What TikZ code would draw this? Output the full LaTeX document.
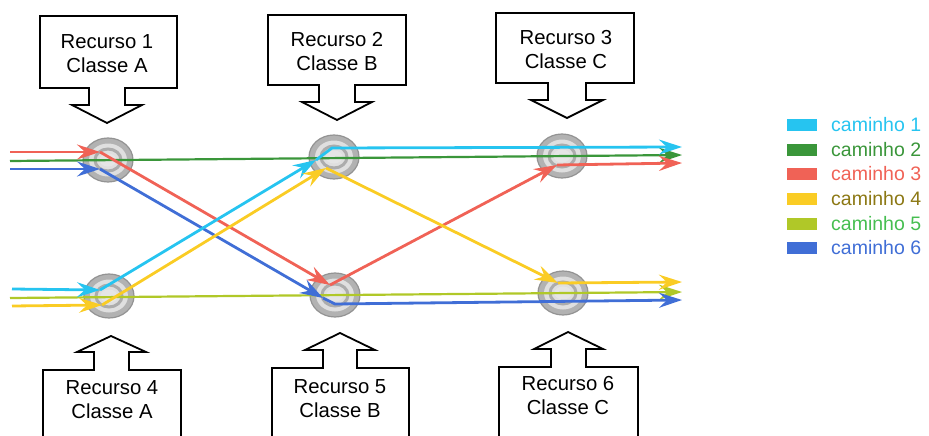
\documentclass[tikz,border=0pt]{standalone}
\usepackage{fontspec}
\setmainfont{Liberation Sans}
\usetikzlibrary{arrows.meta}
\definecolor{ccyan}{RGB}{38,196,240}
\definecolor{cgreen}{RGB}{58,150,58}
\definecolor{cred}{RGB}{240,98,86}
\definecolor{cyellow}{RGB}{250,204,36}
\definecolor{cyg}{RGB}{176,200,40}
\definecolor{cblue}{RGB}{64,110,214}
\definecolor{tolive}{RGB}{140,120,20}
\definecolor{tgreen}{RGB}{70,190,80}
\begin{document}
\begin{tikzpicture}[x=1pt,y=-1pt,
  flow/.style={line width=2.8pt, -{Stealth[length=23pt,width=15pt,inset=8pt]}},
  callout/.style={draw=black, line width=1.8pt, line join=miter},
  lbl/.style={font=\fontsize{20.3}{24}\selectfont, align=center, inner sep=0pt},
  legtxt/.style={font=\fontsize{19.5}{22}\selectfont, anchor=west, inner sep=0pt},
  router/.pic={
    \fill[gray!60] (0,0) ellipse [x radius=25pt, y radius=22pt];
    \draw[gray!85, line width=1.2pt] (0,0) ellipse [x radius=25pt, y radius=22pt];
    \fill[gray!25] (0,0) ellipse [x radius=19pt, y radius=16.5pt];
    \draw[gray!65, line width=3pt] (0,0) ellipse [x radius=13pt, y radius=11pt];
    \fill[gray!20] (0,0) ellipse [x radius=8.5pt, y radius=6.5pt];
  }]
\useasboundingbox (0,0) rectangle (929,436);

% top callouts
\draw[callout] (40,16) -- (177,16) -- (177,88) -- (125,88) -- (125,105) -- (142,105) -- (107,123) -- (72,105) -- (89,105) -- (89,88) -- (40,88) -- cycle;
\draw[callout] (268,15) -- (406,15) -- (406,85) -- (355,85) -- (355,102) -- (372,102) -- (337,120) -- (302,102) -- (319,102) -- (319,85) -- (268,85) -- cycle;
\draw[callout] (496,13) -- (634,13) -- (634,83) -- (586,83) -- (586,100) -- (603,100) -- (567,118) -- (531,100) -- (548,100) -- (548,83) -- (496,83) -- cycle;
\node[lbl] (t1) at (107,54) {Recurso 1\\Classe A};
\node[lbl] (t2) at (337,51.5) {Recurso 2\\Classe B};
\node[lbl] (t3) at (566,50) {Recurso 3\\Classe C};

% bottom callouts
\draw[callout] (43,440) -- (43,370) -- (94,370) -- (94,352) -- (77,352) -- (111,336) -- (146,352) -- (129,352) -- (129,370) -- (181,370) -- (181,440);
\draw[callout] (272,440) -- (272,368) -- (323,368) -- (323,350) -- (305,350) -- (340,333) -- (375,350) -- (357,350) -- (357,368) -- (409,368) -- (409,440);
\draw[callout] (499,440) -- (499,367) -- (551,367) -- (551,349) -- (534,349) -- (568,332) -- (603,349) -- (586,349) -- (586,367) -- (638,367) -- (638,440);
\node[lbl] (t4) at (112,399.5) {Recurso 4\\Classe A};
\node[lbl] (t5) at (340,398.5) {Recurso 5\\Classe B};
\node[lbl] (t6) at (568,395.5) {Recurso 6\\Classe C};

% routers
\pic (n1) at (108,160) {router};
\pic (n2) at (334,157) {router};
\pic (n3) at (562,156) {router};
\pic (n4) at (109,296) {router};
\pic (n5) at (335,295) {router};
\pic (n6) at (563,293) {router};

% waypoints
\coordinate (g0) at (10,161); \coordinate (g1) at (682,155);
\coordinate (v0) at (10,298); \coordinate (v1) at (682,292);
\coordinate (r0) at (10,152); \coordinate (r1) at (100,152); \coordinate (r2) at (330,285); \coordinate (r3) at (557,165); \coordinate (r4) at (682,163);
\coordinate (b0) at (10,169); \coordinate (b1) at (100,169); \coordinate (b2) at (323,298); \coordinate (bk) at (335,304); \coordinate (b3) at (682,300);
\coordinate (c0) at (12,289); \coordinate (c1) at (100,290); \coordinate (c2) at (316,160); \coordinate (ck) at (332,148); \coordinate (c3) at (682,147);
\coordinate (y0) at (12,306); \coordinate (y1) at (102,305); \coordinate (y2) at (326,168); \coordinate (y3) at (558,283); \coordinate (y4) at (682,282);

% paths
\draw[flow, cgreen, line width=2.2pt] (g0) -- (g1);
\draw[flow, cyg, line width=2.2pt] (v0) -- (v1);
\draw[flow, cred] (r0) -- (r1);
\draw[flow, cred] (r1) -- (r2);
\draw[flow, cred] (r2) -- (r3);
\draw[flow, cred] (r3) -- (r4);
\draw[flow, cblue] (b0) -- (b1);
\draw[flow, cblue] (b1) -- (b2);
\draw[flow, cblue] (b2) -- (bk) -- (b3);
\draw[flow, ccyan] (c0) -- (c1);
\draw[flow, ccyan] (c1) -- (c2);
\draw[flow, ccyan] (c2) -- (ck) -- (c3);
\draw[flow, cyellow] (y0) -- (y1);
\draw[flow, cyellow] (y1) -- (y2);
\draw[flow, cyellow] (y2) -- (y3);
\draw[flow, cyellow] (y3) -- (y4);

% legend
\fill[ccyan] (787,119) rectangle (817,131);
\fill[cgreen] (787,144) rectangle (817,156);
\fill[cred] (787,168) rectangle (817,180);
\fill[cyellow] (787,193) rectangle (817,205);
\fill[cyg] (787,218) rectangle (817,230);
\fill[cblue] (787,242) rectangle (817,254);
\node[legtxt, text=ccyan] (l1) at (831,125) {caminho 1};
\node[legtxt, text=cgreen] (l2) at (831,150) {caminho 2};
\node[legtxt, text=cred] (l3) at (831,174) {caminho 3};
\node[legtxt, text=tolive] (l4) at (831,199) {caminho 4};
\node[legtxt, text=tgreen] (l5) at (831,224) {caminho 5};
\node[legtxt, text=cblue] (l6) at (831,248) {caminho 6};
\end{tikzpicture}
\end{document}
